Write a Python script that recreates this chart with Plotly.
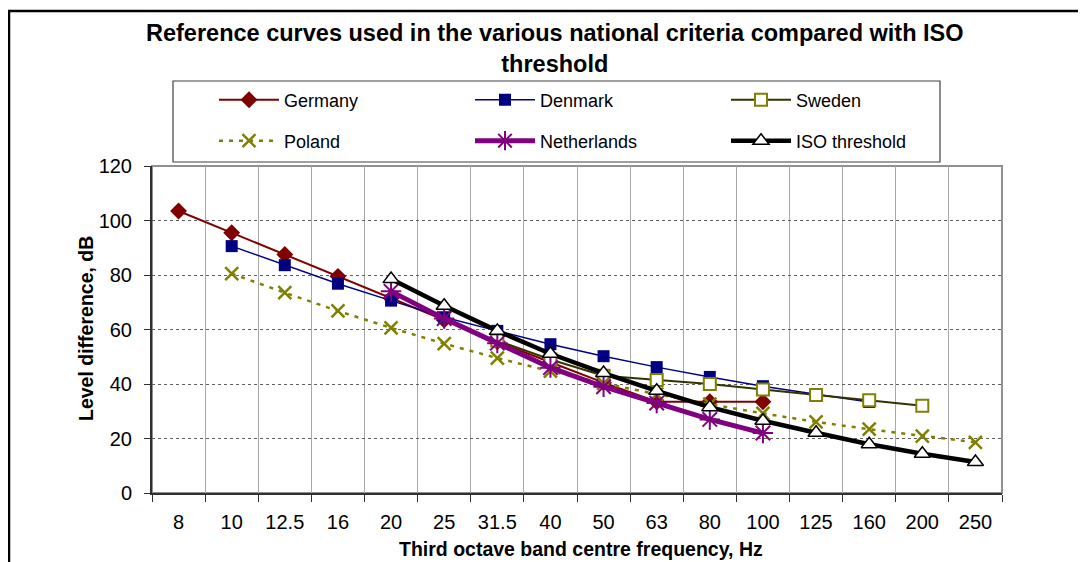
import plotly.graph_objects as go

freqs = ["8", "10", "12.5", "16", "20", "25", "31.5", "40", "50", "63",
         "80", "100", "125", "160", "200", "250"]

germany_f = ["8", "10", "12.5", "16", "20", "25", "31.5", "40", "50", "63", "80", "100"]
germany_v = [103.5, 95.5, 87.5, 79.5, 71.5, 63.5, 55.5, 48, 40.5, 33.5, 33.5, 33.5]

denmark_f = ["10", "12.5", "16", "20", "25", "31.5", "40", "50", "63", "80", "100", "125", "160"]
denmark_v = [90.6, 83.6, 76.8, 70.6, 64.5, 59.5, 54.6, 50.2, 46.2, 42.6, 39.2, 36.2, 33.4]

sweden_f = ["31.5", "40", "50", "63", "80", "100", "125", "160", "200"]
sweden_v = [56, 49, 43, 41.5, 40, 38, 36, 34, 32]

poland_f = ["10", "12.5", "16", "20", "25", "31.5", "40", "50", "63", "80",
            "100", "125", "160", "200", "250"]
poland_v = [80.5, 73.5, 66.8, 60.6, 54.8, 49.5, 44.7, 40.2, 36.3, 32.6,
            29.2, 26.1, 23.4, 20.9, 18.6]

netherlands_f = ["20", "25", "31.5", "40", "50", "63", "80", "100"]
netherlands_v = [74, 64, 55, 46, 39, 33, 27, 22]

iso_f = ["20", "25", "31.5", "40", "50", "63", "80", "100", "125", "160", "200", "250"]
iso_v = [78.5, 68.7, 59.5, 51.1, 44.0, 37.5, 31.5, 26.5, 22.1, 17.9, 14.4, 11.4]

y_ticks = [0, 20, 40, 60, 80, 100, 120]

FONT = "Liberation Sans, Arial, sans-serif"

fig = go.Figure()

fig.add_trace(go.Scatter(
    x=germany_f, y=germany_v, name="Germany", mode="lines+markers",
    line=dict(color="#800000", width=2),
    marker=dict(symbol="diamond", size=13, color="#800000"),
    legend="legend"))
fig.add_trace(go.Scatter(
    x=denmark_f, y=denmark_v, name="Denmark", mode="lines+markers",
    line=dict(color="#000080", width=1.5),
    marker=dict(symbol="square", size=12, color="#000080"),
    legend="legend"))
fig.add_trace(go.Scatter(
    x=sweden_f, y=sweden_v, name="Sweden", mode="lines+markers",
    line=dict(color="#333300", width=2),
    marker=dict(symbol="square", size=12, color="white",
                line=dict(color="#808000", width=2)),
    legend="legend"))
fig.add_trace(go.Scatter(
    x=poland_f, y=poland_v, name="Poland", mode="lines+markers",
    line=dict(color="#808000", width=2.5, dash="4px,6px"),
    marker=dict(symbol="x-thin-open", size=13,
                line=dict(color="#808000", width=2.5)),
    legend="legend2"))
fig.add_trace(go.Scatter(
    x=netherlands_f, y=netherlands_v, name="Netherlands", mode="lines+markers",
    line=dict(color="#800080", width=5),
    marker=dict(symbol="asterisk-open", size=17,
                line=dict(color="#800080", width=2)),
    legend="legend2"))
fig.add_trace(go.Scatter(
    x=iso_f, y=iso_v, name="ISO threshold", mode="lines+markers",
    line=dict(color="black", width=4.5),
    marker=dict(symbol="triangle-up", size=14, color="white",
                line=dict(color="black", width=1.5)),
    legend="legend2"))

# page offset (body margin) compensation
OFF = 8
W, H = 1086 - OFF, 562 - OFF
L, T = 152 - OFF, 166 - OFF
R = W - (1002 - OFF)
B = H - (493 - OFF)
pw, ph = W - L - R, H - T - B


def px_x(x):
    return (x - OFF - L) / pw


def px_y(y):
    return (H - B - (y - OFF)) / ph


shapes = [
    # outer chart border (clipped by window at right/bottom)
    dict(type="rect", xref="paper", yref="paper",
         x0=px_x(9), x1=px_x(1100), y0=px_y(600), y1=px_y(11),
         line=dict(color="black", width=2.5), layer="below"),
    # legend box
    dict(type="rect", xref="paper", yref="paper",
         x0=px_x(173), x1=px_x(940), y0=px_y(162), y1=px_y(81),
         line=dict(color="#404040", width=1.2), fillcolor="white", layer="below"),
    # plot area frame
    dict(type="rect", xref="paper", yref="paper",
         x0=0, x1=1, y0=0, y1=1,
         line=dict(color="#909090", width=2), layer="below"),
]

legend_common = dict(
    orientation="h", xref="paper", yref="paper", xanchor="left", yanchor="middle",
    entrywidth=181, entrywidthmode="pixels", bgcolor="rgba(0,0,0,0)",
    font=dict(family=FONT, size=18, color="black"), borderwidth=0,
    itemwidth=60,
)

fig.update_layout(
    width=W, height=H,
    margin=dict(l=L, r=R, t=T, b=B),
    paper_bgcolor="white", plot_bgcolor="white",
    font=dict(family=FONT, size=18, color="black"),
    showlegend=True,
    legend=dict(x=px_x(214), y=px_y(100), **legend_common),
    legend2=dict(x=px_x(214), y=px_y(141), **legend_common),
    shapes=shapes,
    annotations=[
        dict(text="<b>Reference curves used in the various national criteria compared with ISO<br>threshold</b>",
             xref="paper", yref="paper", x=px_x(555), y=px_y(49), xanchor="center",
             yanchor="middle", showarrow=False,
             font=dict(family=FONT, size=23.5, color="black")),
        dict(text="<b>Third octave band centre frequency, Hz</b>",
             xref="paper", yref="paper", x=px_x(581), y=px_y(549), xanchor="center",
             yanchor="middle", showarrow=False,
             font=dict(family=FONT, size=19.5, color="black")),
        dict(text="<b>Level difference, dB</b>",
             xref="paper", yref="paper", x=px_x(86), y=px_y(329), xanchor="center",
             yanchor="middle", showarrow=False, textangle=-90,
             font=dict(family=FONT, size=19.5, color="black")),
    ],
)

fig.update_xaxes(
    type="category", categoryorder="array", categoryarray=freqs,
    range=[-0.5, len(freqs) - 0.5], tickson="boundaries",
    showgrid=True, gridcolor="#a8a8a8", gridwidth=1,
    showline=True, linecolor="#303030", linewidth=2,
    ticks="outside", ticklen=7, tickcolor="#303030", tickwidth=1,
    ticklabelstandoff=10,
    tickfont=dict(family=FONT, size=20, color="black"),
    zeroline=False, fixedrange=True,
)
fig.update_yaxes(
    range=[0, 120], tickvals=y_ticks, ticktext=[str(v) for v in y_ticks],
    showgrid=True, gridcolor="#606060", gridwidth=1, griddash="dot",
    showline=True, linecolor="#303030", linewidth=2,
    ticks="outside", ticklen=6, tickcolor="#303030", tickwidth=1,
    ticklabelstandoff=8,
    tickfont=dict(family=FONT, size=20, color="black"),
    zeroline=False, fixedrange=True,
)

fig.write_html("out.html")
